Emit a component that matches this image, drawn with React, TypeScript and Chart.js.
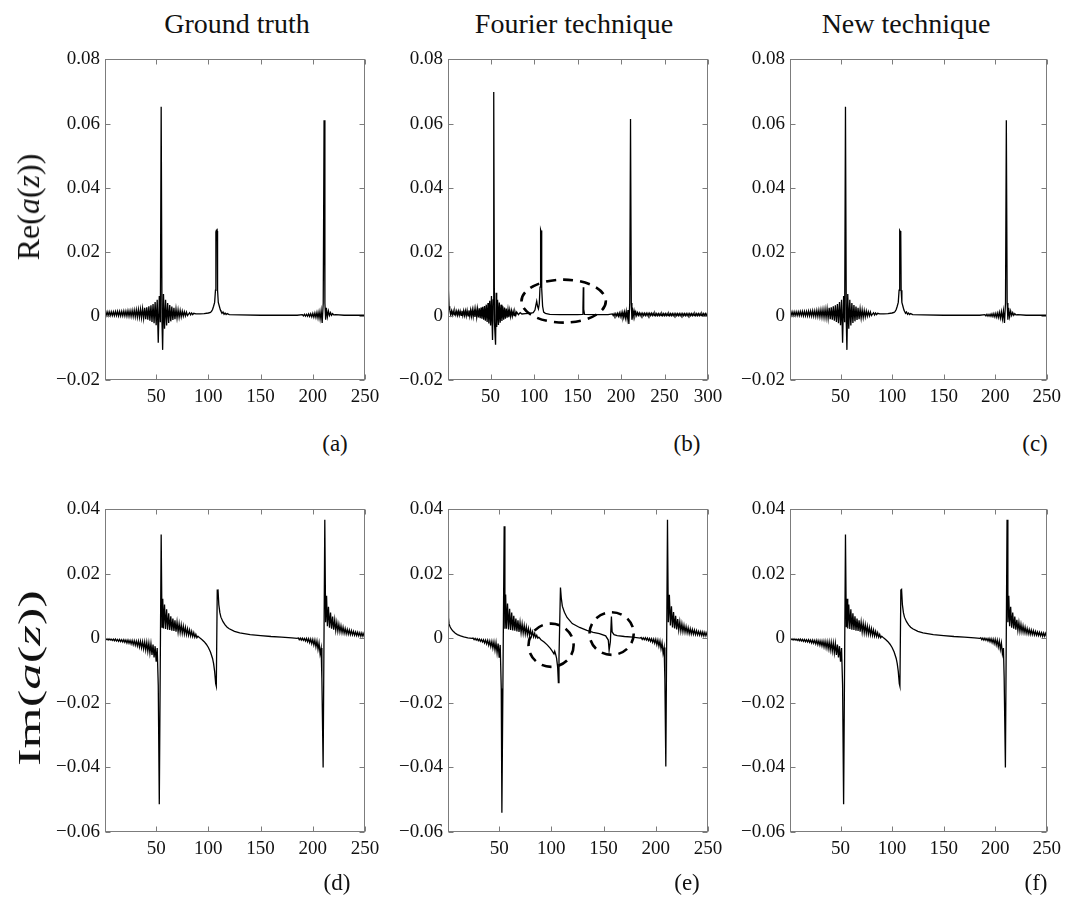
import React, { useEffect, useRef } from 'react';
import { Chart, registerables } from 'chart.js';

Chart.register(...registerables);

const FONT = '"Liberation Serif", "Times New Roman", serif';

type Pt = [number, number];

// ---------- data ----------
const reTruth: Pt[] = [
  [1,0.0013],[2,0.0001],[3,0.0013],[4,0.0001],[5,0.0013],[6,0.0001],[7,0.0013],[8,0.0001],[9,0.0013],[10,0.0001],
  [11,0.0014],[12,0.0001],[13,0.0014],[14,0.0000],[15,0.0014],[16,0.0000],[17,0.0014],[18,0.0000],[19,0.0015],[20,0.0000],
  [21,0.0015],[22,-0.0001],[23,0.0016],[24,-0.0001],[25,0.0016],[26,-0.0002],[27,0.0017],[28,-0.0002],[29,0.0018],[30,-0.0003],
  [31,0.0019],[32,-0.0004],[33,0.0020],[34,-0.0005],[35,0.0021],[36,-0.0006],[37,0.0023],[38,-0.0008],[39,0.0025],[40,-0.0010],
  [41,0.0027],[42,-0.0012],[43,0.0030],[44,-0.0015],[45,0.0033],[46,-0.0019],[47,0.0037],[48,-0.0023],[49,0.0043],[50,-0.0029],
  [51,0.0050],[52,-0.0084],[53,0.0062],[54,-0.0020],[54.8,0.0652],[55.6,-0.0020],[56.2,-0.0106],[57,0.0068],[58,-0.0040],[59,0.0050],[60,-0.0030],
  [61,0.0040],[62,-0.0022],[63,0.0034],[64,-0.0017],[65,0.0029],[66,-0.0013],[67,0.0025],[68,-0.0010],[69,0.0022],[70,-0.0007],
  [71,0.0019],[72,-0.0005],[73,0.0017],[74,-0.0003],[75,0.0015],[76,-0.0001],[77,0.0013],[78,0.0000],[79,0.0012],[80,0.0001],
  [82,0.0010],[83,0.0003],[84,0.0009],[85,0.0004],[86,0.0008],[88,0.0006],[92,0.0006],[96,0.0007],[100,0.0009],[102,0.0011],
  [103,0.0014],[104,0.0020],[105,0.0030],[106,0.0042],[106.8,0.0080],[107.2,0.0262],[107.6,0.0266],[108.0,0.0262],[108.4,0.0265],
  [108.8,0.0080],[109.5,0.0042],[110.5,0.0030],[111.5,0.0018],[112,0.0015],[113,0.0008],[114,0.0012],[115,0.0005],[116,0.0009],
  [117,0.0004],[118,0.0007],[120,0.0004],[130,0.0003],[150,0.0002],[170,0.0002],[185,0.0002],
  [190,0.0004],[191,0.0000],[192,0.0005],[193,-0.0001],[194,0.0005],[195,-0.0001],[196,0.0006],[197,-0.0002],[198,0.0007],[199,-0.0003],
  [200,0.0008],[201,-0.0004],[202,0.0009],[203,-0.0005],[204,0.0011],[205,-0.0007],[206,0.0013],[207,-0.0010],[208,0.0016],[209,-0.0022],
  [210,0.0040],[210.8,0.0610],[211.6,0.0040],[212.3,-0.0012],[213,0.0025],[214,-0.0003],[215,0.0015],[216,0.0001],[217,0.0010],
  [218,0.0002],[219,0.0007],[220,0.0003],[222,0.0004],[230,0.0002],[250,0.0002]
];

const reFourier: Pt[] = [
  [1,0.0195],[1.6,0.0080],[2.2,0.0030],[3,0.0018],[4,0.0004],[5,0.0016],[6,0.0003],[7,0.0015],[8,0.0003],[9,0.0015],[10,0.0003],
  [11,0.0015],[12,0.0002],[13,0.0015],[14,0.0002],[15,0.0015],[16,0.0002],[17,0.0016],[18,0.0001],[19,0.0016],[20,0.0001],
  [21,0.0016],[22,0.0000],[23,0.0017],[24,0.0000],[25,0.0017],[26,-0.0001],[27,0.0018],[28,-0.0001],[29,0.0019],[30,-0.0002],
  [31,0.0020],[32,-0.0003],[33,0.0021],[34,-0.0004],[35,0.0022],[36,-0.0005],[37,0.0024],[38,-0.0007],[39,0.0026],[40,-0.0009],
  [41,0.0028],[42,-0.0012],[43,0.0031],[44,-0.0015],[45,0.0035],[46,-0.0019],[47,0.0040],[48,-0.0024],[49,0.0047],[50,-0.0030],
  [51,0.0062],[52.2,-0.0075],[52.9,0.0050],[53.6,0.0698],[54.4,-0.0020],[55.7,-0.0090],[56.4,0.0072],[57,-0.0035],[58,0.0050],
  [59,-0.0028],[60,0.0042],[61,-0.0021],[62,0.0035],[63,-0.0016],[64,0.0030],[65,-0.0012],[66,0.0026],[67,-0.0009],[68,0.0023],
  [69,-0.0006],[70,0.0020],[71,-0.0004],[72,0.0018],[73,-0.0002],[74,0.0016],[75,-0.0001],[76,0.0014],[77,0.0001],[78,0.0013],
  [79,0.0002],[80,0.0012],[82,0.0004],[84,0.0010],[86,0.0006],[90,0.0007],[95,0.0008],[99,0.0010],[101,0.0018],[102,0.0033],
  [103,0.0046],[104,0.0030],[105,0.0022],[106,0.0038],[106.8,0.0090],[107.3,0.0262],[107.7,0.0268],[108.1,0.0262],[108.5,0.0266],
  [109,0.0085],[109.8,0.0030],[111,0.0012],[113,0.0008],[118,0.0005],[130,0.0004],[150,0.0004],[155.5,0.0005],[156.2,0.0025],
  [156.6,0.0089],[157.1,0.0020],[158,0.0005],[170,0.0004],[185,0.0004],
  [190,0.0006],[191,0.0001],[192,0.0007],[193,0.0000],[194,0.0007],[195,0.0000],[196,0.0008],[197,-0.0001],[198,0.0009],[199,-0.0002],
  [200,0.0010],[201,-0.0003],[202,0.0011],[203,-0.0004],[204,0.0012],[205,-0.0006],[206,0.0014],[207,-0.0009],[208,0.0018],[209,-0.0025],
  [210,0.0040],[210.9,0.0614],[211.8,0.0040],[212.5,-0.0012],[213,0.0026],[214,-0.0002],[215,0.0016],[216,0.0000],[217,0.0012],
  [218,0.0001],[219,0.0010],[220,0.0002],[221,0.0009],[222,0.0001],[223,0.0008],[224,0.0001],
  [225,0.0008],[226,0.0001],[227,0.0008],[228,0.0001],[229,0.0008],[230,0.0001],[231,0.0008],[232,0.0001],[233,0.0008],[234,0.0001],
  [235,0.0008],[236,0.0001],[237,0.0008],[238,0.0001],[239,0.0008],[240,0.0001],[241,0.0007],[242,0.0001],[243,0.0007],[244,0.0001],
  [245,0.0007],[246,0.0001],[247,0.0007],[248,0.0001],[249,0.0007],[250,0.0001],[251,0.0007],[252,0.0001],[253,0.0007],[254,0.0001],
  [255,0.0007],[256,0.0001],[257,0.0007],[258,0.0001],[259,0.0007],[260,0.0001],[261,0.0007],[262,0.0001],[263,0.0007],[264,0.0001],
  [265,0.0007],[266,0.0001],[267,0.0007],[268,0.0001],[269,0.0007],[270,0.0001],[271,0.0007],[272,0.0001],[273,0.0007],[274,0.0001],
  [275,0.0007],[276,0.0001],[277,0.0007],[278,0.0001],[279,0.0007],[280,0.0001],[281,0.0007],[282,0.0001],[283,0.0007],[284,0.0001],
  [285,0.0007],[286,0.0001],[287,0.0007],[288,0.0001],[289,0.0007],[290,0.0001],[291,0.0007],[292,0.0001],[293,0.0007],[294,0.0001],
  [295,0.0007],[296,0.0001],[297,0.0007],[298,0.0001],[299,0.0007],[300,0.0001]
];

// The new technique reproduces the ground truth (same curve)
const reNew: Pt[] = reTruth;

const imTruth: Pt[] = [
  [1,-0.0001],[2,-0.0004],[3,-0.0001],[4,-0.0005],[5,-0.0001],[6,-0.0005],[7,-0.0002],[8,-0.0006],[9,-0.0002],[10,-0.0007],
  [11,-0.0002],[12,-0.0008],[13,-0.0003],[14,-0.0009],[15,-0.0003],[16,-0.0010],[17,-0.0004],[18,-0.0011],[19,-0.0004],[20,-0.0012],
  [21,-0.0005],[22,-0.0014],[23,-0.0005],[24,-0.0015],[25,-0.0006],[26,-0.0017],[27,-0.0006],[28,-0.0019],[29,-0.0007],[30,-0.0021],
  [31,-0.0008],[32,-0.0023],[33,-0.0008],[34,-0.0026],[35,-0.0009],[36,-0.0029],[37,-0.0010],[38,-0.0032],[39,-0.0011],[40,-0.0036],
  [41,-0.0012],[42,-0.0040],[43,-0.0014],[44,-0.0045],[45,-0.0016],[46,-0.0051],[47,-0.0019],[48,-0.0059],[49,-0.0024],[50,-0.0072],
  [51,-0.0030],[52,-0.0145],[53,-0.0514],[54.8,0.0322],[55.6,0.0035],[56.3,0.0123],[57,0.0031],[58,0.0105],[59,0.0029],[60,0.0090],
  [61,0.0027],[62,0.0078],[63,0.0026],[64,0.0069],[65,0.0024],[66,0.0062],[67,0.0023],[68,0.0056],[69,0.0021],[70,0.0051],
  [71,0.0020],[72,0.0046],[73,0.0018],[74,0.0042],[75,0.0016],[76,0.0038],[77,0.0014],[78,0.0034],[79,0.0012],[80,0.0030],
  [81,0.0010],[82,0.0026],[83,0.0008],[84,0.0022],[85,0.0006],[86,0.0018],[87,0.0004],[88,0.0013],[89,0.0002],[90,0.0007],
  [92,0.0001],[94,-0.0004],[96,-0.0010],[98,-0.0018],[100,-0.0028],[102,-0.0042],[104,-0.0062],[105,-0.0078],[106,-0.0102],
  [107,-0.0140],[107.6,-0.0148],[108.5,0.0150],[109.2,0.0152],[110,0.0105],[111,0.0080],[112,0.0066],[114,0.0052],[116,0.0042],
  [118,0.0035],[120,0.0030],[125,0.0022],[130,0.0017],[140,0.0012],[150,0.0009],[160,0.0006],[170,0.0004],[180,0.0002],[185,0.0000],
  [186,0.0002],[187,-0.0004],[188,0.0001],[189,-0.0005],[190,0.0001],[191,-0.0006],[192,0.0000],[193,-0.0008],[194,0.0000],[195,-0.0010],
  [196,-0.0001],[197,-0.0013],[198,-0.0002],[199,-0.0016],[200,-0.0003],[201,-0.0020],[202,-0.0005],[203,-0.0026],[204,-0.0008],
  [205,-0.0034],[206,-0.0014],[207,-0.0048],[208,-0.0030],[208.7,-0.0123],[209.9,-0.0400],[211.5,0.0368],[212.3,0.0050],[213.2,0.0132],
  [214,0.0038],[215,0.0098],[216,0.0033],[217,0.0080],[218,0.0030],[219,0.0068],[220,0.0027],[221,0.0058],[222,0.0025],[223,0.0050],
  [224,0.0022],[225,0.0044],[226,0.0020],[227,0.0039],[228,0.0018],[229,0.0035],[230,0.0016],[231,0.0031],[232,0.0014],[233,0.0028],
  [234,0.0013],[235,0.0026],[236,0.0012],[237,0.0024],[238,0.0011],[239,0.0022],[240,0.0010],[241,0.0020],[242,0.0009],[243,0.0019],
  [244,0.0008],[245,0.0018],[246,0.0007],[247,0.0017],[248,0.0007],[249,0.0016],[250,0.0007]
];

const imFourier: Pt[] = [
  [1,0.0118],[1.5,0.0065],[2,0.0045],[3,0.0036],[4,0.0030],[5,0.0026],[6,0.0022],[8,0.0016],[10,0.0012],[13,0.0008],[16,0.0005],
  [20,0.0002],[24,0.0000],
  [25,0.0001],[26,-0.0004],[27,0.0000],[28,-0.0005],[29,-0.0001],[30,-0.0007],[31,-0.0002],[32,-0.0009],[33,-0.0003],[34,-0.0011],
  [35,-0.0004],[36,-0.0014],[37,-0.0005],[38,-0.0017],[39,-0.0006],[40,-0.0021],[41,-0.0008],[42,-0.0025],[43,-0.0009],[44,-0.0030],
  [45,-0.0011],[46,-0.0036],[47,-0.0013],[48,-0.0045],[49,-0.0016],[50,-0.0060],[51,-0.0020],[52,-0.0155],[52.6,-0.0540],
  [54.8,0.0348],[55.5,0.0030],[56.2,0.0136],[57,0.0030],[58,0.0108],[59,0.0028],[60,0.0092],[61,0.0026],[62,0.0080],[63,0.0025],
  [64,0.0070],[65,0.0024],[66,0.0062],[67,0.0022],[68,0.0056],[69,0.0020],[70,0.0050],[71,0.0018],[72,0.0045],[73,0.0016],
  [74,0.0040],[75,0.0014],[76,0.0036],[77,0.0012],[78,0.0031],[79,0.0010],[80,0.0026],[81,0.0008],[82,0.0021],[83,0.0005],
  [84,0.0016],[85,0.0003],[86,0.0010],[87,0.0001],[88,0.0004],
  [90,-0.0004],[93,-0.0011],[96,-0.0020],[99,-0.0031],[101,-0.0040],[102.5,-0.0048],[103.2,-0.0040],[104,-0.0048],[105,-0.0062],
  [106,-0.0088],[106.7,-0.0137],[107.3,-0.0060],[108.7,0.0158],[109.5,0.0125],[110.5,0.0100],[112.5,0.0081],[115,0.0065],
  [120,0.0046],[127,0.0034],[134,0.0025],[140,0.0019],[146,0.0015],[152,0.0008],[154.5,-0.0005],[155.3,-0.0037],[156.5,-0.0010],
  [157.5,0.0068],[158.2,0.0020],[160,0.0012],[163,0.0009],[170,0.0006],[178,0.0004],[185,0.0001],
  [186,0.0003],[187,-0.0003],[188,0.0002],[189,-0.0004],[190,0.0002],[191,-0.0005],[192,0.0001],[193,-0.0007],[194,0.0000],
  [195,-0.0009],[196,-0.0001],[197,-0.0012],[198,-0.0002],[199,-0.0015],[200,-0.0003],[201,-0.0019],[202,-0.0005],[203,-0.0024],
  [204,-0.0008],[205,-0.0032],[206,-0.0013],[207,-0.0046],[208,-0.0028],[208.7,-0.0125],[209.6,-0.0397],[211.2,0.0368],
  [212,0.0050],[213,0.0135],[214,0.0040],[215,0.0100],[216,0.0034],[217,0.0082],[218,0.0031],[219,0.0070],[220,0.0028],
  [221,0.0060],[222,0.0026],[223,0.0052],[224,0.0023],[225,0.0046],[226,0.0021],[227,0.0041],[228,0.0019],[229,0.0037],
  [230,0.0017],[231,0.0033],[232,0.0015],[233,0.0030],[234,0.0014],[235,0.0028],[236,0.0013],[237,0.0026],[238,0.0012],
  [239,0.0024],[240,0.0011],[241,0.0022],[242,0.0010],[243,0.0021],[244,0.0009],[245,0.0020],[246,0.0008],[247,0.0019],
  [248,0.0008],[249,0.0018],[250,0.0008]
];

const imNew: Pt[] = imTruth;

const xTicks250 = [50, 100, 150, 200, 250];
const xTicks300 = [50, 100, 150, 200, 250, 300];
const reYTicks = [-0.02, 0, 0.02, 0.04, 0.06, 0.08];
const imYTicks = [-0.06, -0.04, -0.02, 0, 0.02, 0.04];

// dashed ellipses: [centre x, centre y, radius x, radius y] in data units
const reFourierMarks: number[][] = [[134, 0.0046, 48.5, 0.0067]];
const imFourierMarks: number[][] = [[99.7, -0.0021, 21.6, 0.0067], [157.7, 0.0015, 21.2, 0.0066]];

const columnTitles = ['Ground truth', 'Fourier technique', 'New technique'];
const panelLetters = ['(a)', '(b)', '(c)', '(d)', '(e)', '(f)'];

// ---------- helpers ----------
function fmtY(v: number): string {
  if (Math.abs(v) < 1e-9) return '0';
  const s = Math.abs(v).toFixed(2);
  return v < 0 ? '\u2212' + s : s;
}

const boxPlugin = {
  id: 'matlabBox',
  afterDraw(chart: any, _args: any, opts: any) {
    const { ctx, chartArea: a, scales } = chart;
    const L = Math.round(a.left) + 0.5;
    const R = Math.round(a.right) - 0.5;
    const T = Math.round(a.top) + 0.5;
    const B = Math.round(a.bottom) - 0.5;
    ctx.save();
    ctx.strokeStyle = '#7c7c7c';
    ctx.lineWidth = 1;
    ctx.strokeRect(L, T, R - L, B - T);
    const len = 5;
    ctx.beginPath();
    scales.x.ticks.forEach((t: any) => {
      const px = Math.round(scales.x.getPixelForValue(t.value)) + 0.5;
      ctx.moveTo(px, B); ctx.lineTo(px, B - len);
      ctx.moveTo(px, T); ctx.lineTo(px, T + len);
    });
    scales.y.ticks.forEach((t: any) => {
      const py = Math.round(scales.y.getPixelForValue(t.value)) + 0.5;
      ctx.moveTo(L, py); ctx.lineTo(L + len, py);
      ctx.moveTo(R, py); ctx.lineTo(R - len, py);
    });
    ctx.stroke();
    const marks: number[][] = (opts && opts.marks) || [];
    ctx.setLineDash([10, 7]);
    ctx.lineWidth = 2.6;
    ctx.strokeStyle = '#000';
    marks.forEach(([cx, cy, rx, ry]) => {
      const X = scales.x.getPixelForValue(cx);
      const Y = scales.y.getPixelForValue(cy);
      const RX = scales.x.getPixelForValue(cx + rx) - X;
      const RY = Y - scales.y.getPixelForValue(cy + ry);
      ctx.beginPath();
      ctx.ellipse(X, Y, RX, RY, 0, 0, Math.PI * 2);
      ctx.stroke();
    });
    ctx.restore();
  },
};

const YW = 60;
const PT = 14;
const XH = 40;

type PanelProps = {
  left: number; top: number; plotW: number; plotH: number; padRight: number;
  data: Pt[]; xMax: number; xTicks: number[]; yTicks: number[]; marks?: number[][];
};

function Panel(p: PanelProps) {
  const ref = useRef<HTMLCanvasElement>(null);
  const W = YW + p.plotW + p.padRight;
  const H = PT + p.plotH + XH;
  useEffect(() => {
    if (!ref.current) return;
    const chart = new Chart(ref.current, {
      type: 'line',
      data: {
        datasets: [{
          data: p.data as any,
          borderColor: '#000',
          borderWidth: 1.3,
          pointRadius: 0,
          tension: 0,
          fill: false,
        }],
      },
      options: {
        animation: false,
        responsive: false,
        maintainAspectRatio: false,
        layout: { padding: { top: PT, right: p.padRight, left: 0, bottom: 0 } },
        plugins: {
          legend: { display: false },
          tooltip: { enabled: false },
          matlabBox: { marks: p.marks || [] },
        } as any,
        scales: {
          x: {
            type: 'linear',
            min: 1,
            max: p.xMax,
            grid: { display: false, drawTicks: false },
            border: { display: false },
            afterBuildTicks: (s: any) => { s.ticks = p.xTicks.map((v) => ({ value: v })); },
            afterFit: (s: any) => { s.height = XH; },
            ticks: {
              padding: 6,
              maxRotation: 0,
              autoSkip: false,
              color: '#111',
              font: { family: FONT, size: 19 },
              callback: (v: any) => String(v),
            },
          },
          y: {
            type: 'linear',
            min: p.yTicks[0],
            max: p.yTicks[p.yTicks.length - 1],
            grid: { display: false, drawTicks: false },
            border: { display: false },
            afterBuildTicks: (s: any) => { s.ticks = p.yTicks.map((v) => ({ value: v })); },
            afterFit: (s: any) => { s.width = YW; },
            ticks: {
              padding: 5,
              autoSkip: false,
              color: '#111',
              font: { family: FONT, size: 19 },
              callback: (v: any) => fmtY(Number(v)),
            },
          },
        },
      },
      plugins: [boxPlugin],
    });
    return () => chart.destroy();
  }, []);
  return (
    <canvas
      ref={ref}
      width={W}
      height={H}
      style={{ position: 'absolute', left: p.left - YW, top: p.top - PT, width: W, height: H }}
    />
  );
}

function Label(props: { x: number; y: number; size: number; rotate?: boolean; stretch?: number; children: any }) {
  const rot = props.rotate ? ` rotate(-90deg) scaleX(${props.stretch || 1})` : '';
  return (
    <div
      style={{
        position: 'absolute',
        left: props.x,
        top: props.y,
        transform: `translate(-50%, -50%)${rot}`,
        whiteSpace: 'nowrap',
        lineHeight: 1,
        fontFamily: FONT,
        fontSize: props.size,
        color: '#111',
      }}
    >
      {props.children}
    </div>
  );
}

export default function App() {
  const colLeft = [105, 448, 790];
  const rowTop = [57, 507];
  const rowH = [323, 325];
  const plotW = 260;
  const padR = [22, 22, 17];
  const titleX = [237, 574, 906];
  const letterPos = [[335, 443], [687, 443], [1035, 443], [337, 882], [687, 882], [1036, 882]];

  return (
    <div style={{ position: 'absolute', left: 0, top: 0, width: 1067, height: 899, overflow: 'hidden', background: '#fff' }}>
      <Panel left={colLeft[0]} top={rowTop[0]} plotW={plotW} plotH={rowH[0]} padRight={padR[0]} data={reTruth} xMax={250} xTicks={xTicks250} yTicks={reYTicks} />
      <Panel left={colLeft[1]} top={rowTop[0]} plotW={plotW} plotH={rowH[0]} padRight={padR[1]} data={reFourier} xMax={300} xTicks={xTicks300} yTicks={reYTicks} marks={reFourierMarks} />
      <Panel left={colLeft[2]} top={rowTop[0]} plotW={plotW} plotH={rowH[0]} padRight={padR[2]} data={reNew} xMax={250} xTicks={xTicks250} yTicks={reYTicks} />
      <Panel left={colLeft[0]} top={rowTop[1]} plotW={plotW} plotH={rowH[1]} padRight={padR[0]} data={imTruth} xMax={250} xTicks={xTicks250} yTicks={imYTicks} />
      <Panel left={colLeft[1]} top={rowTop[1]} plotW={plotW} plotH={rowH[1]} padRight={padR[1]} data={imFourier} xMax={250} xTicks={xTicks250} yTicks={imYTicks} marks={imFourierMarks} />
      <Panel left={colLeft[2]} top={rowTop[1]} plotW={plotW} plotH={rowH[1]} padRight={padR[2]} data={imNew} xMax={250} xTicks={xTicks250} yTicks={imYTicks} />

      {columnTitles.map((t, i) => (
        <Label key={t} x={titleX[i]} y={24} size={28}>{t}</Label>
      ))}
      {panelLetters.map((t, i) => (
        <Label key={t} x={letterPos[i][0]} y={letterPos[i][1]} size={23}>{t}</Label>
      ))}
      <Label x={28} y={207} size={32} rotate>
        Re(<i>a</i>(<i>z</i>))
      </Label>
      <Label x={29} y={678} size={32} rotate stretch={1.65}>
        Im(<i>a</i>(<i>z</i>))
      </Label>
    </div>
  );
}
